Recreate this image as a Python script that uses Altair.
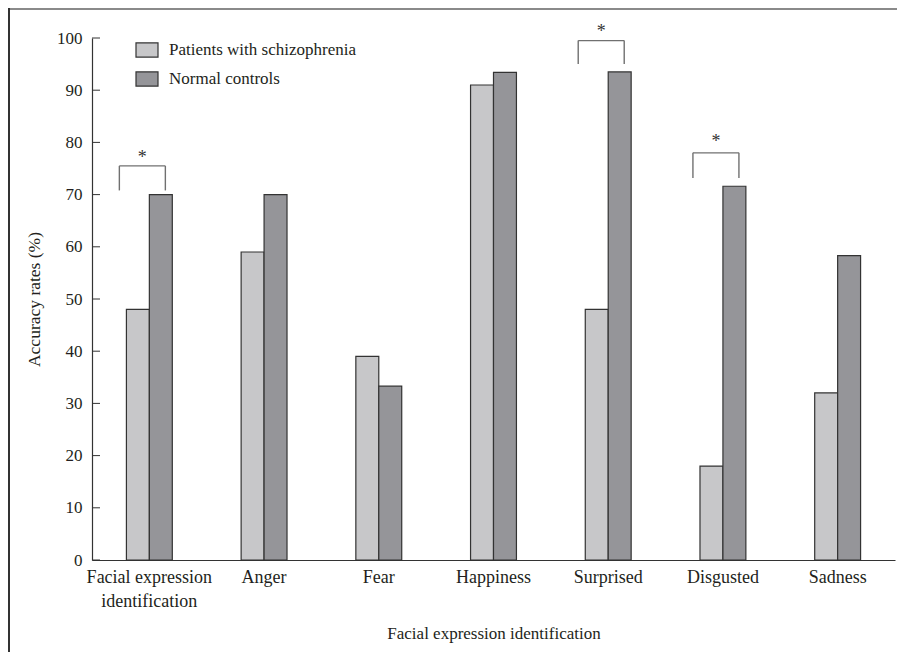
import altair as alt
import pandas as pd

categories = ["Facial expression identification", "Anger", "Fear", "Happiness",
              "Surprised", "Disgusted", "Sadness"]
series_names = ["Patients with schizophrenia", "Normal controls"]
patients = [48, 59, 39, 91, 48, 18, 32]
controls = [70, 70, 33.3, 93.4, 93.5, 71.6, 58.3]

sig_categories = ["Facial expression identification", "Surprised", "Disgusted"]
bracket_top = [75.5, 99.5, 78.0]
bracket_bottom = [70.8, 95.0, 73.2]
star_y = [77.8, 101.9, 80.8]

y_ticks = [0, 10, 20, 30, 40, 50, 60, 70, 80, 90, 100]

FONT = "Liberation Serif"

rows = []
for c, p, n in zip(categories, patients, controls):
    rows.append({"category": c, "group": series_names[0], "value": p})
    rows.append({"category": c, "group": series_names[1], "value": n})
bars_df = pd.DataFrame(rows)
sig_df = pd.DataFrame({"category": sig_categories, "top": bracket_top,
                       "bottom": bracket_bottom, "star": star_y})
tick_df = pd.DataFrame({"tick": y_ticks})

x_scale = alt.Scale(domain=categories, paddingInner=0.6, paddingOuter=0.3)
y_scale = alt.Scale(domain=[0, 100], nice=False)

label_expr = ("datum.label == 'Facial expression identification' ? "
              "['Facial expression', 'identification'] : datum.label")

x_axis = alt.Axis(title="Facial expression identification", labelAngle=0,
                  ticks=False, labelExpr=label_expr, labelPadding=8,
                  labelFontSize=18, labelLineHeight=24, labelFont=FONT,
                  labelColor="#231f20", titleFont=FONT, titleFontSize=17,
                  titleFontWeight="normal", titleColor="#231f20",
                  titlePadding=15, domainColor="#333", domainWidth=1.2,
                  labelLimit=300)
y_axis = alt.Axis(title="Accuracy rates (%)", values=y_ticks, ticks=False,
                  grid=False, labelFontSize=17, labelFont=FONT,
                  labelColor="#231f20", labelPadding=10, titleFont=FONT,
                  titleFontSize=17.5, titleFontWeight="normal",
                  titleColor="#231f20", titlePadding=13,
                  domainColor="#333", domainWidth=1.2)

bars = alt.Chart(bars_df).mark_bar(stroke="#333", strokeWidth=1.2).encode(
    x=alt.X("category:N", scale=x_scale, sort=categories, axis=x_axis),
    xOffset=alt.XOffset("group:N", sort=series_names),
    y=alt.Y("value:Q", scale=y_scale, axis=y_axis),
    color=alt.Color("group:N", sort=series_names,
                    scale=alt.Scale(domain=series_names, range=["#c7c7c9", "#959599"]),
                    legend=alt.Legend(title=None, orient="none", legendX=43, legendY=0,
                                      symbolType="M-1,-0.64H1V0.64H-1Z", symbolSize=484,
                                      symbolStrokeColor="#333", symbolStrokeWidth=1.2,
                                      labelFont=FONT, labelFontSize=17, labelColor="#231f20",
                                      labelOffset=10, rowPadding=7, padding=0,
                                      labelLimit=400)),
)

ticks = alt.Chart(tick_df).mark_rule(color="#333", strokeWidth=1).encode(
    x=alt.value(0), x2=alt.value(8), y=alt.Y("tick:Q", scale=y_scale, axis=y_axis))

br_color = "#707070"
h_rule = alt.Chart(sig_df).mark_rule(color=br_color, strokeWidth=1.4, xOffset=-30,
                                     x2Offset=16).encode(
    x=alt.X("category:N", scale=x_scale, sort=categories, axis=x_axis),
    x2="category:N",
    y=alt.Y("top:Q", scale=y_scale, axis=y_axis))
left_leg = alt.Chart(sig_df).mark_rule(color=br_color, strokeWidth=1.4, xOffset=-30).encode(
    x=alt.X("category:N", scale=x_scale, sort=categories, axis=x_axis),
    y=alt.Y("bottom:Q", scale=y_scale, axis=y_axis), y2="top:Q")
right_leg = alt.Chart(sig_df).mark_rule(color=br_color, strokeWidth=1.4, xOffset=16).encode(
    x=alt.X("category:N", scale=x_scale, sort=categories, axis=x_axis),
    y=alt.Y("bottom:Q", scale=y_scale, axis=y_axis), y2="top:Q")
stars = alt.Chart(sig_df).mark_text(text="*", font=FONT, fontSize=18, color="#333",
                                    xOffset=-7, dy=4, baseline="middle").encode(
    x=alt.X("category:N", scale=x_scale, sort=categories, axis=x_axis),
    y=alt.Y("star:Q", scale=y_scale, axis=y_axis))

frame_top = alt.Chart(tick_df).mark_rule(color="#8a8a8a", strokeWidth=2).encode(
    x=alt.value(-83), x2=alt.value(814), y=alt.value(-29))
frame_left = alt.Chart(tick_df).mark_rule(color="#333", strokeWidth=1.5).encode(
    x=alt.value(-83), y=alt.value(-30), y2=alt.value(620))

chart = alt.layer(bars, ticks, h_rule, left_leg, right_leg, stars, frame_top, frame_left).properties(
    width=803, height=522,
    autosize=alt.AutoSizeParams(type="none"),
    padding={"left": 84, "top": 30, "right": 2, "bottom": 92},
    background="white",
).configure_view(stroke=None)

chart.save("out.html", embed_options={"renderer": "svg", "actions": False})
